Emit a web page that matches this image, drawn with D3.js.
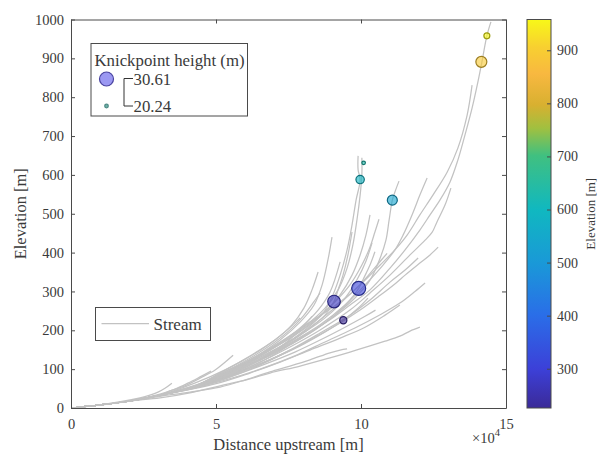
<!DOCTYPE html>
<html>
<head>
<meta charset="utf-8">
<script src="https://cdn.jsdelivr.net/npm/d3@7"></script>
<style>
  body { margin: 0; background: #fff; }
  text { font-family: "Liberation Serif", "DejaVu Serif", serif; fill: #3a3a3a; }
</style>
</head>
<body>
<div id="chart"></div>
<script>
// stream profiles: [distance upstream (x10^4 m), elevation (m)]
const trunk = [[0, 0], [1.00, 8], [2.03, 18], [3.07, 33]];

const streamA = trunk.concat([[4.10, 51], [4.79, 72], [5.83, 103], [6.86, 136], [7.90, 180], [8.93, 227], [9.62, 265], [10.31, 304], [11.00, 360], [11.52, 407], [12.03, 458], [12.38, 497], [12.72, 535], [13.07, 582], [13.34, 638], [13.52, 685], [13.83, 772], [14.03, 839], [14.17, 891], [14.34, 958], [14.48, 994]]);
const streamB = trunk.concat([[4.10, 51], [5.14, 88], [6.17, 124], [7.21, 170], [8.24, 221], [9.28, 273], [9.97, 317], [10.66, 368], [11.17, 407], [11.59, 445], [12.03, 497], [12.48, 548], [12.97, 607], [13.34, 669], [13.66, 754], [13.83, 831]]);
const streamC = trunk.concat([[4.10, 51], [5.48, 85], [6.52, 118], [7.55, 157], [8.59, 201], [9.62, 252], [10.31, 296], [11.00, 342], [11.69, 394], [12.21, 432], [12.45, 452], [12.62, 479], [12.90, 523], [13.10, 566]]);
const streamD = trunk.concat([[4.10, 51], [5.31, 80], [6.52, 124], [7.55, 167], [8.59, 214], [9.45, 265], [10.14, 317], [10.76, 368], [11.17, 407], [11.45, 445], [11.76, 497], [12.03, 548], [12.28, 592]]);
const streamE = trunk.concat([[4.10, 51], [5.14, 75], [6.17, 103], [7.21, 136], [8.24, 175], [9.28, 219], [9.97, 252], [10.66, 290], [11.21, 322], [11.52, 342], [12.03, 373], [12.38, 394], [12.66, 414]]);
const streamF = trunk.concat([[4.10, 51], [5.31, 75], [6.52, 111], [7.55, 149], [8.59, 193], [9.62, 239], [10.31, 278], [11.00, 324], [11.52, 355], [11.97, 386]]);
const streamG = trunk.concat([[4.10, 51], [5.14, 77], [6.17, 110], [7.21, 149], [8.24, 193], [9.10, 239], [9.79, 283], [10.31, 329], [10.66, 386], [10.86, 432], [10.97, 484], [11.08, 535], [11.17, 556], [11.31, 584]]);
const streamH = trunk.concat([[4.45, 59], [5.48, 93], [6.52, 134], [7.55, 180], [8.41, 227], [9.10, 273], [9.62, 317], [10.03, 368], [10.31, 414], [10.48, 453], [10.62, 486]]);
const streamI = trunk.concat([[4.79, 72], [5.83, 108], [6.86, 149], [7.90, 196], [8.76, 247], [9.28, 291], [9.69, 342], [9.97, 394], [10.17, 445], [10.31, 497]]);
const streamJ = trunk.concat([[4.10, 51], [5.14, 80], [6.17, 118], [7.21, 157], [8.07, 201], [8.72, 247], [9.03, 291], [9.28, 342], [9.52, 407], [9.69, 471], [9.83, 535], [9.97, 588], [9.90, 613], [9.90, 649]]);
const streamK = trunk.concat([[4.10, 51], [5.14, 85], [6.17, 124], [7.21, 167], [8.07, 211], [8.76, 257], [9.21, 304], [9.52, 360], [9.72, 420], [9.86, 484], [9.97, 548], [10.03, 600], [10.03, 644]]);
const streamL = trunk.concat([[4.28, 54], [5.31, 88], [6.34, 131], [7.21, 175], [7.90, 221], [8.38, 265], [8.66, 317], [8.86, 381], [9.00, 440]]);
const streamM = trunk.concat([[4.10, 51], [5.14, 80], [6.17, 113], [7.21, 154], [8.07, 196], [8.76, 239], [9.07, 274], [9.21, 304], [9.38, 342], [9.55, 394], [9.69, 453]]);
const streamN = trunk.concat([[4.10, 51], [5.31, 80], [6.52, 118], [7.55, 162], [8.41, 201], [9.10, 239], [9.62, 278], [9.92, 308], [10.10, 335], [10.31, 368], [10.48, 402]]);
const streamO = trunk.concat([[4.62, 59], [5.83, 93], [6.86, 124], [7.90, 160], [8.76, 196], [9.39, 226], [9.90, 257], [10.24, 283]]);
const streamP = [[0, 0], [1.00, 8], [2.03, 18], [3.07, 26], [4.10, 39], [5.14, 57], [6.17, 75], [6.86, 90], [7.90, 108], [8.93, 129], [9.62, 144], [10.31, 160], [10.83, 172], [11.34, 185], [11.69, 198], [12.03, 208]];
const streamQ = [[0, 0], [1.00, 8], [2.03, 18], [3.07, 30], [4.10, 41], [5.14, 54], [6.00, 72], [6.86, 93], [7.55, 108], [8.24, 124], [8.93, 142], [9.28, 149], [9.52, 152]];
const streamR = trunk.concat([[3.41, 44], [3.93, 57], [4.45, 77], [4.97, 98], [5.31, 118], [5.59, 136]]);
const streamS = [[0, 0], [1.00, 8], [2.03, 18], [3.07, 36], [3.59, 49], [4.03, 64], [4.45, 80], [4.83, 95]];
const streamT = [[0, 0], [1.00, 8], [2.38, 26], [2.72, 33], [3.00, 41], [3.24, 51], [3.48, 64]];
const streamU = trunk.concat([[4.97, 62], [6.17, 90], [7.21, 118], [8.24, 149], [9.28, 180], [10.14, 208], [10.83, 239], [11.34, 265]]);
const streamV = trunk.concat([[4.28, 57], [5.21, 93], [6.17, 134], [7.03, 175], [7.62, 214], [8.03, 257], [8.31, 304], [8.52, 350]]);
const streamW = trunk.concat([[4.10, 51], [5.31, 88], [6.34, 126], [7.21, 167], [7.90, 206], [8.52, 252], [8.93, 298], [9.28, 376]]);
const streamY = trunk.concat([[4.79, 80], [5.83, 118], [6.69, 157], [7.38, 196], [7.90, 232]]);
const streamZ = trunk.concat([[5.31, 77], [6.17, 103], [6.86, 124], [7.55, 149]]);
const streamAA = trunk.concat([[4.28, 54], [5.48, 90], [6.69, 134], [7.72, 180], [8.59, 227], [9.28, 270], [9.79, 304], [10.24, 340], [10.60, 372], [10.90, 398]]);
const streamAB = trunk.concat([[4.45, 59], [5.66, 98], [6.86, 144], [7.90, 188], [8.76, 232], [9.45, 283], [9.86, 330], [10.17, 378], [10.38, 425]]);
const streamAC = trunk.concat([[4.10, 49], [5.31, 72], [6.52, 100], [7.72, 134], [8.76, 170], [9.79, 206], [10.66, 240], [11.34, 270], [11.86, 300], [12.21, 322]]);
const streamAD = trunk.concat([[4.28, 51], [5.48, 80], [6.69, 113], [7.72, 144], [8.59, 175], [9.45, 208], [10.14, 236], [10.50, 252]]);
const streamAE = trunk.concat([[4.62, 62], [5.66, 95], [6.52, 126], [7.21, 157], [7.72, 188], [8.07, 215], [8.31, 236]]);
const streamAF = trunk.concat([[4.45, 62], [5.48, 100], [6.34, 136], [7.03, 170], [7.55, 201], [8.00, 236], [8.34, 270], [8.59, 296]]);

const streams = [streamA, streamB, streamC, streamD, streamE, streamF, streamG, streamH, streamI,
    streamJ, streamK, streamL, streamM, streamN, streamO, streamP, streamQ, streamR, streamS,
    streamT, streamU, streamV, streamW, streamY, streamZ, streamAA, streamAB, streamAC, streamAD,
    streamAE, streamAF];

// knickpoints
const knickX = [14.34, 14.15, 10.09, 9.97, 11.08, 9.92, 9.07, 9.39];
const knickElev = [958, 891, 631, 588, 535, 308, 274, 226];
const knickHeight = [22.6, 27.6, 20.24, 25.0, 26.6, 30.61, 29.2, 23.8];

const xTicks = [0, 5, 10, 15];
const yTicks = [0, 100, 200, 300, 400, 500, 600, 700, 800, 900, 1000];
const cTicks = [300, 400, 500, 600, 700, 800, 900];
const sizeLegend = [30.61, 20.24];

// parula-like colour stops (position, colour)
const parulaPos = [0, 0.10, 0.24, 0.37, 0.51, 0.65, 0.72, 0.78, 0.86, 0.93, 1];
const parula = ['#3b2a98', '#3c40d8', '#2a6ee8', '#1a98d8', '#10b8c0', '#40c080', '#a0c040', '#d8b030', '#f8b840', '#f8d030', '#f8f818'];

const W = 600, H = 455;
const plot = {left: 71, right: 506, top: 19.5, bottom: 408};
const bar = {left: 527, right: 551, top: 19.5, bottom: 408};

const svg = d3.select('#chart').append('svg')
    .attr('width', W)
    .attr('height', H);

const x = d3.scaleLinear().domain([0, 15]).range([plot.left, plot.right]);
const y = d3.scaleLinear().domain([0, 1000]).range([plot.bottom, plot.top]);

const cDomain = d3.extent(knickElev);
const parulaScale = d3.scaleLinear().domain(parulaPos).range(parula).interpolate(d3.interpolateRgb);
const color = v => parulaScale((v - cDomain[0]) / (cDomain[1] - cDomain[0]));
const r = d3.scaleLinear().domain([20.24, 30.61]).range([1.8, 7]);

// streams
const line = d3.line()
    .x(d => x(d[0]))
    .y(d => y(d[1]))
    .curve(d3.curveCatmullRom.alpha(0.5));

svg.append('g')
    .selectAll('path')
    .data(streams)
    .enter()
    .append('path')
    .attr('d', line)
    .attr('fill', 'none')
    .attr('stroke', '#c2c2c2')
    .attr('stroke-width', 1.25);

// axes (box with inner ticks)
const axisColor = '#4a4a4a';
function styleAxis(g) {
    g.selectAll('.domain').attr('stroke', axisColor);
    g.selectAll('.tick line').attr('stroke', axisColor);
    g.selectAll('text')
        .style('font-family', '"Liberation Serif", serif')
        .style('font-size', '14.5px')
        .attr('fill', '#3a3a3a');
}

svg.append('g')
    .attr('transform', 'translate(0,' + plot.bottom + ')')
    .call(d3.axisBottom(x).tickValues(xTicks).tickSize(-4).tickSizeOuter(0).tickPadding(11))
    .call(styleAxis);

svg.append('g')
    .attr('transform', 'translate(0,' + plot.top + ')')
    .call(d3.axisTop(x).tickValues(xTicks).tickSize(-4).tickSizeOuter(0).tickFormat(''))
    .call(styleAxis);

svg.append('g')
    .attr('transform', 'translate(' + plot.left + ',0)')
    .call(d3.axisLeft(y).tickValues(yTicks).tickFormat(d3.format('d')).tickSize(-4).tickSizeOuter(0).tickPadding(7))
    .call(styleAxis);

svg.append('g')
    .attr('transform', 'translate(' + plot.right + ',0)')
    .call(d3.axisRight(y).tickValues(yTicks).tickSize(-4).tickSizeOuter(0).tickFormat(''))
    .call(styleAxis);

// knickpoints
const knicks = knickX.map((d, i) => ({x: d, elev: knickElev[i], h: knickHeight[i]}));

svg.append('g')
    .selectAll('circle')
    .data(knicks)
    .enter()
    .append('circle')
    .attr('cx', d => x(d.x))
    .attr('cy', d => y(d.elev))
    .attr('r', d => r(d.h))
    .attr('fill', d => color(d.elev))
    .attr('fill-opacity', 0.62)
    .attr('stroke', d => d3.color(color(d.elev)).darker(1.3))
    .attr('stroke-width', 1.2);

// axis titles
svg.append('text')
    .attr('x', (plot.left + plot.right) / 2)
    .attr('y', 450)
    .attr('text-anchor', 'middle')
    .style('font-size', '16.5px')
    .text('Distance upstream [m]');

svg.append('text')
    .attr('transform', 'translate(26,' + (plot.top + plot.bottom) / 2 + ') rotate(-90)')
    .attr('text-anchor', 'middle')
    .style('font-size', '16.5px')
    .text('Elevation [m]');

const expo = svg.append('text')
    .attr('x', 472)
    .attr('y', 443)
    .style('font-size', '14.5px');
expo.append('tspan').text('\u00d710');
expo.append('tspan').attr('dy', -7).style('font-size', '10.5px').text('4');

// colorbar
const grad = svg.append('defs').append('linearGradient')
    .attr('id', 'parula')
    .attr('x1', 0).attr('y1', 1).attr('x2', 0).attr('y2', 0);
grad.selectAll('stop')
    .data(parula)
    .enter()
    .append('stop')
    .attr('offset', (d, i) => parulaPos[i])
    .attr('stop-color', d => d);

svg.append('rect')
    .attr('x', bar.left)
    .attr('y', bar.top)
    .attr('width', bar.right - bar.left)
    .attr('height', bar.bottom - bar.top)
    .attr('fill', 'url(#parula)')
    .attr('stroke', axisColor)
    .attr('stroke-width', 1);

const cScale = d3.scaleLinear().domain(cDomain).range([bar.bottom, bar.top]);
svg.append('g')
    .attr('transform', 'translate(' + bar.right + ',0)')
    .call(d3.axisRight(cScale).tickValues(cTicks).tickSize(-4).tickSizeOuter(0).tickPadding(6))
    .call(styleAxis)
    .call(g => g.select('.domain').remove())
    .call(g => g.selectAll('text').style('font-size', '14px'));

svg.append('text')
    .attr('transform', 'translate(595,' + (bar.top + bar.bottom) / 2 + ') rotate(-90)')
    .attr('text-anchor', 'middle')
    .style('font-size', '13px')
    .text('Elevation [m]');

// knickpoint legend
const kl = svg.append('g');
kl.append('rect')
    .attr('x', 91).attr('y', 43.5)
    .attr('width', 156.5).attr('height', 72.5)
    .attr('fill', '#fff')
    .attr('stroke', axisColor);
kl.append('text')
    .attr('x', 94.5).attr('y', 65.5)
    .style('font-size', '16.8px')
    .text('Knickpoint height (m)');
kl.selectAll('circle')
    .data(sizeLegend)
    .enter()
    .append('circle')
    .attr('cx', 106.5)
    .attr('cy', (d, i) => i === 0 ? 79 : 106)
    .attr('r', d => r(d))
    .attr('fill', (d, i) => i === 0 ? '#9b98f2' : '#6fb0a8')
    .attr('stroke', (d, i) => i === 0 ? '#4a44a0' : '#4d8a84')
    .attr('stroke-width', 1.2);
kl.append('path')
    .attr('d', 'M133,78.5H124V106H133')
    .attr('fill', 'none')
    .attr('stroke', '#333')
    .attr('stroke-width', 1);
kl.selectAll('.lab')
    .data(sizeLegend)
    .enter()
    .append('text')
    .attr('class', 'lab')
    .attr('x', 133.5)
    .attr('y', (d, i) => i === 0 ? 84.5 : 111.5)
    .style('font-size', '16.8px')
    .text(d => d.toFixed(2));

// stream legend
const sl = svg.append('g');
sl.append('rect')
    .attr('x', 95.5).attr('y', 307.5)
    .attr('width', 115).attr('height', 33)
    .attr('fill', '#fff')
    .attr('stroke', axisColor);
sl.append('line')
    .attr('x1', 101.5).attr('x2', 149)
    .attr('y1', 323.5).attr('y2', 323.5)
    .attr('stroke', '#c2c2c2')
    .attr('stroke-width', 1.25);
sl.append('text')
    .attr('x', 153.5).attr('y', 329.5)
    .style('font-size', '17px')
    .text('Stream');
</script>
</body>
</html>
